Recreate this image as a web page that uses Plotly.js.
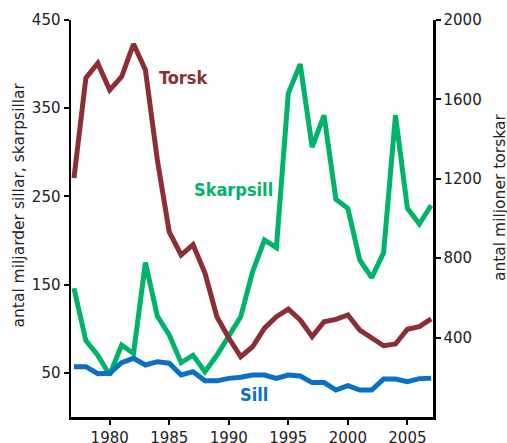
<!DOCTYPE html>
<html>
<head>
<meta charset="utf-8">
<script src="https://cdn.plot.ly/plotly-3.0.1.min.js"></script>
<style>html,body{margin:0;padding:0;background:#fff;}#chart{width:507px;height:443px;}</style>
</head>
<body>
<div id="chart"></div>
<script>
const years = [1977,1978,1979,1980,1981,1982,1983,1984,1985,1986,1987,1988,1989,1990,1991,1992,1993,1994,1995,1996,1997,1998,1999,2000,2001,2002,2003,2004,2005,2006,2007];
const torsk = [1204,1708,1782,1647,1714,1879,1748,1295,932,816,868,725,505,398,304,354,448,505,543,489,405,480,492,514,438,401,359,368,442,455,494];
const skarpsill = [146,86.5,70,47.6,81.6,72,175,114.5,93,61.6,70,51.4,70,91,113.5,164.7,200.6,192,367,400,306,342,246.7,236.5,178,158,186,342,236.5,218.8,240];
const sill = [57,57,49,49.5,61.6,66.5,59,62.7,61,47.6,51.4,41,41,43.8,45,47.6,47.6,43.8,47.6,46.5,39,39,30.6,35.5,30.6,30.6,43,43,40,43.5,43.8];
const leftTicks = [50,150,250,350,450];
const rightTicks = [400,800,1200,1600,2000];
const xTicks = [1980,1985,1990,1995,2000,2005];
const leftTitle = 'antal miljarder sillar, skarpsillar';
const rightTitle = 'antal miljoner torskar';

const cTorsk = '#8B2E36', cSkarp = '#00B36B', cSill = '#0B6FC3';
const tickFont = {family:'DejaVu Sans', size:15, color:'#222'};
const titleFont = {family:'DejaVu Sans', size:15.5, color:'#222'};
const labelFont = (c)=>({family:'DejaVu Sans Condensed, DejaVu Sans', size:18, color:c, weight:'bold'});

const data = [
  {x:years, y:skarpsill, type:'scatter', mode:'lines', line:{color:cSkarp, width:5}, yaxis:'y', hoverinfo:'skip'},
  {x:years, y:sill, type:'scatter', mode:'lines', line:{color:cSill, width:5}, yaxis:'y', hoverinfo:'skip'},
  {x:years, y:torsk, type:'scatter', mode:'lines', line:{color:cTorsk, width:5}, yaxis:'y2', hoverinfo:'skip'}
];

const layout = {
  width:507, height:443,
  margin:{l:71, r:74, t:20, b:26, pad:0},
  paper_bgcolor:'#fff', plot_bgcolor:'#fff',
  showlegend:false,
  xaxis:{range:[1976.75,2007.15], tickvals:xTicks, ticks:'outside', ticklen:5, tickwidth:2, tickcolor:'#000',
         showline:true, linecolor:'#000', linewidth:2.5, showgrid:false, zeroline:false, tickfont:tickFont, automargin:false},
  yaxis:{range:[0,450], tickvals:leftTicks, ticks:'outside', ticklen:5, tickwidth:2, tickcolor:'#000',
         showline:true, linecolor:'#000', linewidth:2.5, showgrid:false, zeroline:false, tickfont:tickFont, automargin:false},
  yaxis2:{range:[0,2000], tickvals:rightTicks, overlaying:'y', side:'right', ticks:'outside', ticklen:5, tickwidth:2, tickcolor:'#000',
         showline:true, linecolor:'#000', linewidth:2.5, showgrid:false, zeroline:false, tickfont:tickFont, automargin:false},
  annotations:[
    {x:1986.2, y:385, xref:'x', yref:'y', text:'Torsk', showarrow:false, font:labelFont(cTorsk)},
    {x:1990.4, y:258, xref:'x', yref:'y', text:'Skarpsill', showarrow:false, font:labelFont(cSkarp)},
    {x:1992.1, y:26, xref:'x', yref:'y', text:'Sill', showarrow:false, font:labelFont(cSill)},
    {x:-0.145, y:0.534, xref:'paper', yref:'paper', text:leftTitle, textangle:-90, showarrow:false, font:titleFont, xanchor:'center', yanchor:'middle'},
    {x:1.185, y:0.554, xref:'paper', yref:'paper', text:rightTitle, textangle:-90, showarrow:false, font:titleFont, xanchor:'center', yanchor:'middle'}
  ]
};
Plotly.newPlot('chart', data, layout, {displayModeBar:false, staticPlot:true});
</script>
</body>
</html>
